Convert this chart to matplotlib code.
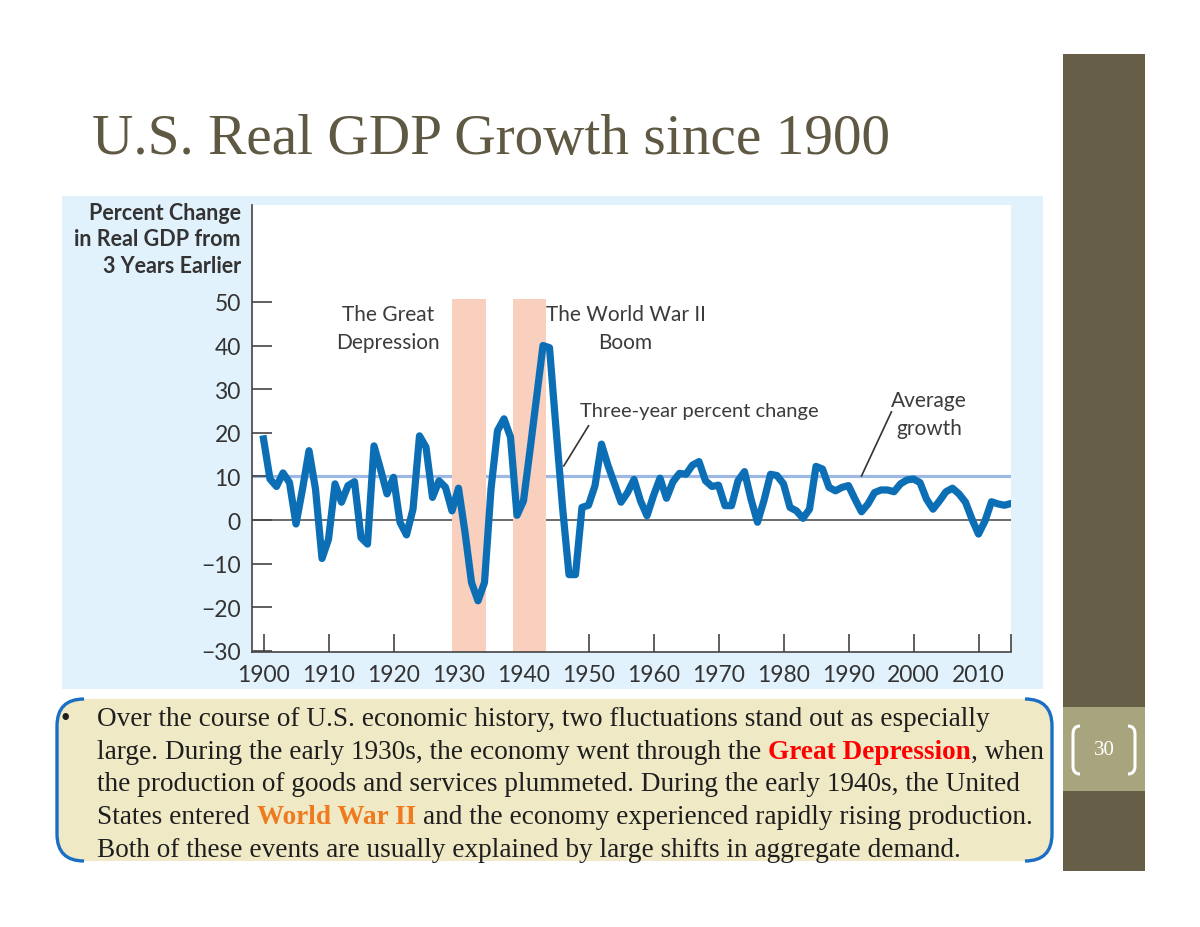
import matplotlib.pyplot as plt
from matplotlib.patches import Rectangle, FancyBboxPatch, PathPatch
from matplotlib.path import Path

plt.rcParams['font.family'] = ['Lato', 'DejaVu Sans']

# Three-year percent change in real GDP, 1900-2015
years = list(range(1900, 2016))
gdp_change = [
    18.6, 9.4, 7.7, 10.8, 8.6, -0.9, 7.1, 15.9, 7.1, -8.8,        # 1900s
    -4.4, 8.3, 4.1, 7.9, 8.8, -4.0, -5.5, 17.0, 11.7, 6.0,        # 1910s
    9.8, -0.5, -3.4, 2.5, 19.3, 16.7, 5.2, 9.0, 7.5, 2.1,         # 1920s
    7.3, -2.8, -14.3, -18.5, -14.3, 7.1, 20.5, 23.2, 19.0, 1.1,   # 1930s
    4.4, 16.0, 28.0, 40.0, 39.5, 21.0, 3.0, -12.5, -12.5, 2.9,    # 1940s
    3.4, 7.9, 17.4, 12.5, 8.3, 4.1, 6.3, 9.3, 4.4, 1.0,           # 1950s
    5.6, 9.6, 5.0, 8.8, 10.7, 10.5, 12.6, 13.4, 9.0, 7.7,         # 1960s
    8.0, 3.3, 3.3, 9.0, 11.1, 4.8, -0.5, 4.5, 10.5, 10.2,         # 1970s
    8.3, 2.9, 2.1, 0.4, 2.5, 12.3, 11.7, 7.5, 6.7, 7.5,           # 1980s
    7.9, 4.8, 1.9, 3.7, 6.3, 6.9, 6.9, 6.5, 8.3, 9.2,             # 1990s
    9.4, 8.6, 4.8, 2.5, 4.4, 6.5, 7.3, 6.0, 4.1, 0.2,             # 2000s
    -3.2, -0.2, 4.2, 3.7, 3.4, 3.8,                               # 2010s
]
avg_growth = 10.0
depression = (1929.0, 1934.2)
ww2_boom = (1938.4, 1943.4)
x_ticks = list(range(1900, 2011, 10))
y_ticks = [-30, -20, -10, 0, 10, 20, 30, 40, 50]

W, H = 1200, 928
fig = plt.figure(figsize=(12, 9.28), dpi=100)
fig.patch.set_facecolor('white')

# background axes in pixel coordinates for the slide decoration
bg = fig.add_axes([0, 0, 1, 1])
bg.set_xlim(0, W)
bg.set_ylim(H, 0)
bg.axis('off')

bg.add_patch(Rectangle((62, 197), 981, 493, color='#e1f2fc', lw=0))
bg.add_patch(Rectangle((1063, 55), 82, 817, color='#665e47', lw=0))
bg.add_patch(Rectangle((1063, 708), 82, 84, color='#a8a47e', lw=0))

# page number
bg.text(1104, 751, '30', color='white', fontsize=15, family='Liberation Serif',
        ha='center', va='center')
for side in (-1, 1):
    x0 = 1104 + side * 31
    x1 = 1104 + side * 24
    bracket = Path([(x1, 727), (x0, 727), (x0, 735), (x0, 767), (x0, 775), (x1, 775)],
                   [Path.MOVETO, Path.CURVE3, Path.CURVE3, Path.LINETO, Path.CURVE3, Path.CURVE3])
    bg.add_patch(PathPatch(bracket, fc='none', ec='white', lw=2.2))

# title
fig.text(92 / W, 1 - 154 / H, 'U.S. Real GDP Growth since 1900', family='Liberation Serif',
         fontsize=41.2, color='#5f5843', va='baseline', ha='left')

# y axis label
bg.text(241, 240, 'Percent Change\nin Real GDP from\n3 Years Earlier', ha='right', va='center',
        fontsize=15.5, fontweight='bold', color='#333333', linespacing=1.3)

# text box
bg.add_patch(FancyBboxPatch((57, 700), 995, 162, boxstyle='round,pad=0,rounding_size=26',
                            fc='#efe9c6', ec='none'))
for xa, xb in ((84, 57), (1025, 1052)):
    br = Path([(xa, 700), (xb, 700), (xb, 727), (xb, 835), (xb, 862), (xa, 862)],
              [Path.MOVETO, Path.CURVE3, Path.CURVE3, Path.LINETO, Path.CURVE3, Path.CURVE3])
    bg.add_patch(PathPatch(br, fc='none', ec='#1a6fc4', lw=2.4))

renderer = fig.canvas.get_renderer()
body_fs = 19.6
body_kw = dict(family='Liberation Serif', fontsize=body_fs, va='baseline', ha='left', color='#1e1e1e')


def put(x, y, s, **kw):
    opts = dict(body_kw)
    opts.update(kw)
    t = bg.text(x, y, s, **opts)
    return t.get_window_extent(renderer).x1


def width(s):
    t = bg.text(0, 0, s, **body_kw)
    w = t.get_window_extent(renderer).width
    t.remove()
    return w


space = width('a a') - width('aa')
left = 97
baselines = [726, 759, 791.5, 824, 857]

bg.text(61, 726, '•', **body_kw)
put(left, baselines[0], 'Over the course of U.S. economic history, two fluctuations stand out as especially')
x = put(left, baselines[1], 'large. During the early 1930s, the economy went through the')
x = put(x + space, baselines[1], 'Great Depression', color='#ff0000', fontweight='bold')
put(x, baselines[1], ', when')
put(left, baselines[2], 'the production of goods and services plummeted. During the early 1940s, the United')
x = put(left, baselines[3], 'States entered')
x = put(x + space, baselines[3], 'World War II', color='#f07a1e', fontweight='bold')
put(x + space, baselines[3], 'and the economy experienced rapidly rising production.')
put(left, baselines[4], 'Both of these events are usually explained by large shifts in aggregate demand.')

# chart
ax = fig.add_axes([252 / W, (H - 653) / H, (1011 - 252) / W, (653 - 206) / H])
ax.set_facecolor('white')
ax.set_xlim(1898.23, 2015)
ax.set_ylim(-30.23, 72.2)

span_top = (50.7 + 30.23) / (72.2 + 30.23)
for a, b in (depression, ww2_boom):
    ax.axvspan(a, b, ymin=0, ymax=span_top, color='#f9cfbd', lw=0, zorder=2)

ax.axhline(avg_growth, color='#9db9e3', lw=2.3, zorder=1)
ax.axhline(0, color='#444444', lw=1.1, zorder=1)
ax.plot(years, gdp_change, color='#0c6fb6', lw=5.2, zorder=3, solid_joinstyle='round')

note = dict(color='#3b3b3b', fontsize=15, ha='center', va='center')
ax.text(1919.1, 44.0, 'The Great\nDepression', linespacing=1.55, **note)
ax.text(1955.7, 44.0, 'The World War II\nBoom', linespacing=1.55, **note)
ax.text(1948.7, 25.0, 'Three-year percent change', color='#3b3b3b', fontsize=14.5, ha='left', va='center')
ax.text(2002.4, 24.3, 'Average\ngrowth', linespacing=1.55, **note)
ax.plot([1950.0, 1946.2], [21.6, 12.4], color='#333333', lw=1.2, zorder=4)
ax.plot([1996.6, 1992.0], [24.8, 10.1], color='#333333', lw=1.2, zorder=4)

ax.set_xticks(x_ticks + [2015])
ax.set_xticklabels([str(v) for v in x_ticks] + [''])
ax.set_yticks(y_ticks)
ax.tick_params(axis='x', direction='in', length=13, width=1.2, color='#444444',
               pad=9, labelsize=16.5, labelcolor='#333333')
ax.tick_params(axis='y', direction='in', length=14.5, width=1.2, color='#444444',
               pad=8, labelsize=16.5, labelcolor='#333333')
for s in ('top', 'right'):
    ax.spines[s].set_visible(False)
for s in ('left', 'bottom'):
    ax.spines[s].set_color('#444444')
    ax.spines[s].set_linewidth(1.2)

fig.savefig('out.png', dpi=100)
